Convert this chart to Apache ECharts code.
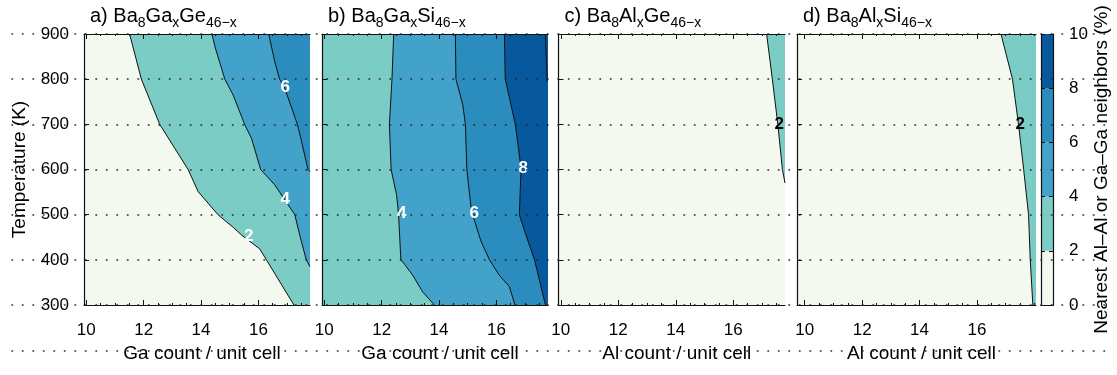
<!DOCTYPE html>
<html><head><meta charset="utf-8">
<script src="https://cdn.jsdelivr.net/npm/echarts@6/dist/echarts.min.js"></script>
<style>html,body{margin:0;padding:0;background:#fff}#c{width:1117px;height:375px}</style>
</head><body><div id="c"></div><script>
const FONT = '"Liberation Sans", Arial, Helvetica, sans-serif';

// ---- axes / tick labels ----
const xTickValues = [10, 12, 14, 16];
const xMinorTickValues = [10.5, 11, 11.5, 12.5, 13, 13.5, 14.5, 15, 15.5, 16.5, 17, 17.5, 18];
const yMin = 300, yMax = 900, yStep = 100;
const colorLevels = [0, 2, 4, 6, 8, 10];
const bandColors = ['#f3f9ee', '#7bccc4', '#43a2ca', '#2b8cbe', '#08589e'];

const xRangeA = [9.92, 17.8];
const xRangeB = [9.92, 17.8];
const xRangeC = [9.92, 17.8];
const xRangeD = [9.73, 18.06];

// ---- contour lines: [count, temperature K] ----
// a) Ba8GaxGe46-x
const aC2 = [[11.51,900],[11.92,800],[12.56,700],[13.55,600],[13.90,551],[14.59,500],[15.12,472],[15.41,455],[16.05,424],[16.28,400],[17.24,300]];
const aC4 = [[14.38,900],[14.50,869],[14.83,800],[15.12,765],[15.52,700],[15.76,669],[16.08,600],[16.57,566],[16.92,533],[17.27,500],[17.44,455],[17.67,400],[17.80,385]];
const aC6 = [[16.36,900],[16.57,839],[16.74,800],[16.92,780],[17.36,700],[17.48,669],[17.73,600],[17.80,595]];
// b) Ba8GaxSi46-x
const bC4 = [[12.42,900],[12.36,800],[12.27,700],[12.33,600],[12.52,544],[12.59,500],[12.67,400],[12.80,390],[13.08,366],[13.43,329],[13.84,300]];
const bC6 = [[14.57,900],[14.59,800],[14.83,743],[14.92,700],[14.97,600],[15.12,514],[15.17,500],[15.47,440],[15.76,400],[16.10,366],[16.45,341],[16.65,300]];
const bC8 = [[16.28,900],[16.31,800],[16.51,743],[16.66,700],[16.80,632],[16.86,600],[16.80,500],[17.03,455],[17.33,400],[17.71,300]];
const bC10 = [[17.71,900],[17.77,795]];
// c) Ba8AlxGe46-x
const cC2 = [[17.16,900],[17.36,800],[17.55,700],[17.71,600],[17.80,570]];
// d) Ba8AlxSi46-x
const dC2 = [[16.84,900],[17.24,800],[17.45,700],[17.63,600],[17.80,500],[17.86,400],[17.95,300]];

// ---- contour labels: [count, temperature, text] ----
const aLabels = [[15.66,453,'2'],[16.94,533,'4'],[16.94,782,'6']];
const bLabels = [[12.70,503,'4'],[15.23,503,'6'],[16.94,603,'8']];
const cLabels = [[17.60,700,'2']];
const dLabels = [[17.51,700,'2']];

const panelTitles = [
  '{n|a) Ba}{s|8}{n|Ga}{s|x}{n|Ge}{s|46\u2212x}',
  '{n|b) Ba}{s|8}{n|Ga}{s|x}{n|Si}{s|46\u2212x}',
  '{n|c) Ba}{s|8}{n|Al}{s|x}{n|Ge}{s|46\u2212x}',
  '{n|d) Ba}{s|8}{n|Al}{s|x}{n|Si}{s|46\u2212x}'
];
const xNames = ['Ga count / unit cell', 'Ga count / unit cell', 'Al count / unit cell', 'Al count / unit cell'];
const yName = 'Temperature (K)';
const cbName = 'Nearest Al\u2013Al or Ga\u2013Ga neighbors (%)';

const panelContours = [
  [[2, aC2], [4, aC4], [6, aC6]],
  [[4, bC4], [6, bC6], [8, bC8], [10, bC10]],
  [[2, cC2]],
  [[2, dC2]]
];
const panelBaseLevel = [0, 2, 0, 0];
const panelXRanges = [xRangeA, xRangeB, xRangeC, xRangeD];
const panelLabels = [aLabels, bLabels, cLabels, dLabels];
const labelColors = ['#ffffff', '#ffffff', '#000000', '#000000'];

// ---- layout ----
const layout = [
  {left: 84, width: 226},
  {left: 322, width: 226},
  {left: 558.5, width: 226.5},
  {left: 797, width: 239}
];
const TOP = 34, BOTTOM = 70;
const AX = '#111';

function bandColor(level) { return bandColors[Math.min(Math.floor(level / 2), bandColors.length - 1)]; }

const grid = [], xAxis = [], yAxis = [], series = [], title = [];

layout.forEach((L, gi) => {
  grid.push({left: L.left, width: L.width, top: TOP, bottom: BOTTOM});
  const xr = panelXRanges[gi];
  const minor = xMinorTickValues.filter(v => v > xr[0] && v < xr[1]);
  const base = {gridIndex: gi, type: 'value', min: xr[0], max: xr[1], splitLine: {show: false}, z: 5};
  xAxis.push(Object.assign({}, base, {
    position: 'bottom', name: xNames[gi], nameLocation: 'middle', nameGap: 33,
    nameTextStyle: {fontSize: 19, color: '#000', fontFamily: FONT, padding: [0, 0, 0, 10]},
    axisLine: {show: true, lineStyle: {color: AX, width: 1.2}},
    axisTick: {show: true, inside: true, length: 5, customValues: xTickValues, lineStyle: {color: AX}},
    axisLabel: {show: true, customValues: xTickValues, margin: 17, fontSize: 17, color: '#000', fontFamily: FONT}
  }));
  xAxis.push(Object.assign({}, base, {
    position: 'bottom', axisLine: {show: false},
    axisTick: {show: true, inside: true, length: 2, customValues: minor, lineStyle: {color: AX}},
    axisLabel: {show: false}
  }));
  xAxis.push(Object.assign({}, base, {
    position: 'top', axisLine: {show: true, lineStyle: {color: AX, width: 1.2}},
    axisTick: {show: true, inside: true, length: 5, customValues: xTickValues, lineStyle: {color: AX}},
    axisLabel: {show: false}
  }));
  xAxis.push(Object.assign({}, base, {
    position: 'top', axisLine: {show: false},
    axisTick: {show: true, inside: true, length: 2, customValues: minor, lineStyle: {color: AX}},
    axisLabel: {show: false}
  }));
  yAxis.push({
    gridIndex: gi, type: 'value', min: yMin, max: yMax, interval: yStep, position: 'left', z: 5,
    name: gi === 0 ? yName : '', nameLocation: 'middle', nameGap: 55,
    nameTextStyle: {fontSize: 19, color: '#000', fontFamily: FONT},
    axisLine: {show: true, lineStyle: {color: AX, width: 1.2}},
    axisTick: {show: true, inside: true, length: 5, lineStyle: {color: AX}},
    axisLabel: {show: gi === 0, margin: 15, fontSize: 17, color: '#000', fontFamily: FONT},
    splitLine: {show: false}
  });

  const xi = gi * 4, yi = gi;
  const rect = [[xr[0], yMin], [xr[1], yMin], [xr[1], yMax], [xr[0], yMax]];
  const polySeries = (poly, color, z) => ({
    type: 'custom', xAxisIndex: xi, yAxisIndex: yi, silent: true, z: z,
    data: [poly[0]],
    renderItem: (p, api) => ({type: 'polygon', shape: {points: poly.map(pt => api.coord(pt))}, style: {fill: color}})
  });
  series.push(polySeries(rect, bandColor(panelBaseLevel[gi]), 1));
  panelContours[gi].forEach(([level, pts], k) => {
    const first = pts[0], last = pts[pts.length - 1];
    const poly = pts.concat([[xr[1], last[1]], [xr[1], first[1]]]);
    series.push(polySeries(poly, bandColor(level), 1.1 + k * 0.01));
  });
  panelContours[gi].forEach(([level, pts]) => {
    series.push({
      type: 'line', xAxisIndex: xi, yAxisIndex: yi, data: pts, symbol: 'none', silent: true,
      lineStyle: {color: '#111', width: 1}, z: 3, animation: false
    });
  });
  const labs = panelLabels[gi];
  series.push({
    type: 'custom', xAxisIndex: xi, yAxisIndex: yi, silent: true, z: 4,
    data: labs.map(l => [l[0], l[1]]),
    renderItem: (p, api) => {
      const c = api.coord([api.value(0), api.value(1)]);
      return {type: 'text', x: c[0], y: c[1], style: {
        text: labs[p.dataIndex][2], fill: labelColors[gi], fontSize: 17, fontWeight: 'bold',
        fontFamily: FONT, align: 'center', verticalAlign: 'middle'}};
    }
  });

  title.push({
    left: L.left + 1, top: 1, text: panelTitles[gi],
    textStyle: {
      fontFamily: FONT, fontWeight: 'normal',
      rich: {
        n: {fontSize: 20, lineHeight: 23, verticalAlign: 'top', color: '#000', fontFamily: FONT, fontWeight: 'normal'},
        s: {fontSize: 14, lineHeight: 14, padding: [10, 0, 0, 0], verticalAlign: 'top', color: '#000', fontFamily: FONT, fontWeight: 'normal'}
      }
    }
  });
});

// overlay dotted grid lines (index 4)
grid.push({left: 12, right: 8, top: TOP, bottom: 375 - 350.4});
xAxis.push({gridIndex: 4, type: 'value', min: 0, max: 1, show: false});
yAxis.push({
  gridIndex: 4, type: 'value', min: 200, max: 900, interval: 100, z: 10,
  axisLine: {show: false}, axisTick: {show: false}, axisLabel: {show: false},
  splitLine: {show: true, lineStyle: {color: '#222', width: 1.6, type: [0.5, 10], cap: 'round'}}
});

// colorbar (grid 5)
grid.push({left: 1041, width: 12, top: TOP, bottom: BOTTOM});
xAxis.push({gridIndex: 5, type: 'category', data: ['cb'], position: 'bottom', z: 5,
  axisLine: {show: true, lineStyle: {color: AX, width: 1.2}}, axisTick: {show: false}, axisLabel: {show: false}});
xAxis.push({gridIndex: 5, type: 'category', data: ['cb'], position: 'top', z: 5,
  axisLine: {show: true, lineStyle: {color: AX, width: 1.2}}, axisTick: {show: false}, axisLabel: {show: false}});
yAxis.push({
  gridIndex: 5, type: 'value', min: colorLevels[0], max: colorLevels[colorLevels.length - 1], interval: 2,
  position: 'right', z: 5,
  name: cbName, nameLocation: 'middle', nameRotate: 90, nameGap: 38,
  nameTextStyle: {fontSize: 19, color: '#000', fontFamily: FONT},
  axisLine: {show: true, lineStyle: {color: AX, width: 1.2}},
  axisTick: {show: true, inside: true, length: 4, lineStyle: {color: AX}},
  axisLabel: {show: true, margin: 16, fontSize: 17, color: '#000', fontFamily: FONT},
  splitLine: {show: false}
});
yAxis.push({
  gridIndex: 5, type: 'value', min: colorLevels[0], max: colorLevels[colorLevels.length - 1], interval: 2,
  position: 'left', z: 5,
  axisLine: {show: true, lineStyle: {color: AX, width: 1.2}},
  axisTick: {show: true, inside: true, length: 4, lineStyle: {color: AX}},
  axisLabel: {show: false}, splitLine: {show: false}
});
for (let i = 0; i < colorLevels.length - 1; i++) {
  series.push({
    type: 'bar', xAxisIndex: 17, yAxisIndex: 5, stack: 'cb', barWidth: '100%', silent: true,
    data: [colorLevels[i + 1] - colorLevels[i]], itemStyle: {color: bandColors[i]}, z: 2
  });
}

const chart = echarts.init(document.getElementById('c'), null, {renderer: 'canvas'});
chart.setOption({
  animation: false,
  backgroundColor: '#ffffff',
  textStyle: {fontFamily: FONT},
  title, grid, xAxis, yAxis, series
});
</script></body></html>
